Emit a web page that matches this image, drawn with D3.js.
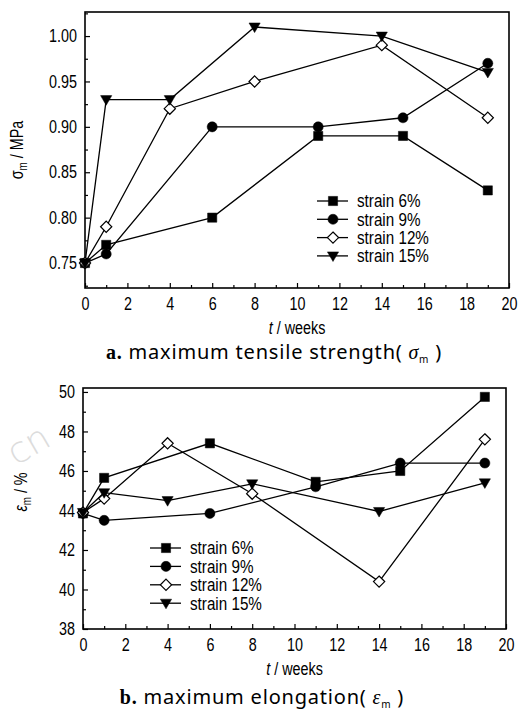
<!DOCTYPE html>
<html>
<head>
<meta charset="utf-8">
<script src="https://cdn.jsdelivr.net/npm/d3@7"></script>
<style>
  body { margin: 0; background: #fff; }
  svg { display: block; }
  .tick text { font-family: "Liberation Sans", Arial, sans-serif; font-size: 17.5px; fill: #000; }
  .lbl { font-family: "Liberation Sans", Arial, sans-serif; font-size: 17.5px; fill: #000; }
  .cap { font-family: "Noto Sans", "DejaVu Sans", sans-serif; font-size: 20px; fill: #000; letter-spacing: 0.8px; }
</style>
</head>
<body>
<svg width="525" height="711"></svg>
<script>
// series shared by both panels
const seriesNames = ['strain 6%', 'strain 9%', 'strain 12%', 'strain 15%'];
const markerTypes = ['square', 'circle', 'diamond', 'triangle'];

// panel a: maximum tensile strength (MPa)
const tensileWeeks = [
  [0, 1, 6, 11, 15, 19],
  [0, 1, 6, 11, 15, 19],
  [0, 1, 4, 8, 14, 19],
  [0, 1, 4, 8, 14, 19]
];
const tensileValues = [
  [0.75, 0.77, 0.80, 0.89, 0.89, 0.83],
  [0.75, 0.76, 0.90, 0.90, 0.91, 0.97],
  [0.75, 0.79, 0.92, 0.95, 0.99, 0.91],
  [0.75, 0.93, 0.93, 1.01, 1.00, 0.96]
];
const tensileTicks = [0.75, 0.80, 0.85, 0.90, 0.95, 1.00];
const tensileMinor = [0.725, 0.775, 0.825, 0.875, 0.925, 0.975, 1.025];

// panel b: maximum elongation (%)
const elongWeeks = [
  [0, 1, 6, 11, 15, 19],
  [0, 1, 6, 11, 15, 19],
  [0, 1, 4, 8, 14, 19],
  [0, 1, 4, 8, 14, 19]
];
const elongValues = [
  [43.85, 45.65, 47.4, 45.45, 46.0, 49.75],
  [43.85, 43.5, 43.85, 45.2, 46.4, 46.4],
  [43.9, 44.6, 47.4, 44.85, 40.4, 47.6],
  [43.9, 44.9, 44.5, 45.35, 43.95, 45.4]
];
const elongTicks = [38, 40, 42, 44, 46, 48, 50];
const elongMinor = [39, 41, 43, 45, 47, 49];

const weekTicks = [0, 2, 4, 6, 8, 10, 12, 14, 16, 18, 20];
const weekMinor = [1, 3, 5, 7, 9, 11, 13, 15, 17, 19];

const svg = d3.select('svg');
const narrow = 0.82;  // the figure uses a condensed face

function markerPath(type) {
  if (type == 'square') return 'M-4.6,-4.6H4.6V4.6H-4.6Z';
  if (type == 'diamond') return 'M0,-5.6L5.6,0L0,5.6L-5.6,0Z';
  if (type == 'triangle') return 'M-5.6,-4L5.6,-4L0,5.6Z';
  return d3.symbol(d3.symbolCircle, 80)();
}

function drawMarker(g, type, x, y) {
  g.append('path')
    .attr('d', markerPath(type))
    .attr('transform', `translate(${x},${y})`)
    .attr('fill', type == 'diamond' ? '#fff' : '#000')
    .attr('stroke', '#000')
    .attr('stroke-width', type == 'diamond' ? 1.2 : 0.5);
}

// squeezed text placed at x,y
function narrowText(g, x, y, sx) {
  return g.append('text').attr('class', 'lbl')
    .attr('transform', `translate(${x},${y}) scale(${sx},1)`);
}

function drawPanel(p) {
  const x = d3.scaleLinear().domain([0, 20]).range([p.left, p.right]);
  const y = d3.scaleLinear().domain(p.yDomain).range([p.bottom, p.top]);
  const g = svg.append('g');

  // x axis, ticks pointing inward
  g.append('g')
    .attr('transform', `translate(0,${p.bottom})`)
    .call(d3.axisBottom(x).tickValues(weekTicks).tickSize(-5).tickPadding(10).tickFormat(d3.format('d')))
    .call(a => a.select('.domain').remove())
    .call(a => a.selectAll('text').attr('transform', `scale(${narrow},1)`));
  g.append('g')
    .attr('transform', `translate(0,${p.bottom})`)
    .call(d3.axisBottom(x).tickValues(weekMinor).tickSize(-3).tickFormat(''))
    .call(a => a.select('.domain').remove());

  // y axis
  g.append('g')
    .attr('transform', `translate(${p.left},0)`)
    .call(d3.axisLeft(y).tickValues(p.yTicks).tickSize(-5).tickPadding(8).tickFormat(p.yFormat))
    .call(a => a.select('.domain').remove())
    .call(a => a.selectAll('text').attr('x', -8 / narrow).attr('transform', `scale(${narrow},1)`));
  g.append('g')
    .attr('transform', `translate(${p.left},0)`)
    .call(d3.axisLeft(y).tickValues(p.yMinor).tickSize(-3).tickFormat(''))
    .call(a => a.select('.domain').remove());

  g.selectAll('.tick line').attr('stroke', '#000').attr('stroke-width', 1.2);

  // frame
  g.append('rect')
    .attr('x', p.left).attr('y', p.top)
    .attr('width', p.right - p.left).attr('height', p.bottom - p.top)
    .attr('fill', 'none').attr('stroke', '#000').attr('stroke-width', 1.6);

  const line = d3.line().x(d => x(d[0])).y(d => y(d[1]));

  p.weeks.forEach((wk, i) => {
    const pts = wk.map((w, j) => [w, p.values[i][j]]);
    g.append('path').datum(pts)
      .attr('d', line)
      .attr('fill', 'none').attr('stroke', '#000').attr('stroke-width', 1.3);
  });
  p.weeks.forEach((wk, i) => {
    wk.forEach((w, j) => drawMarker(g, markerTypes[i], x(w), y(p.values[i][j])));
  });

  // legend
  seriesNames.forEach((name, i) => {
    const ly = p.legY + i * p.legStep;
    g.append('line')
      .attr('x1', p.legX).attr('x2', p.legX + 31)
      .attr('y1', ly).attr('y2', ly)
      .attr('stroke', '#000').attr('stroke-width', 1.3);
    drawMarker(g, markerTypes[i], p.legX + 16, ly);
    narrowText(g, p.legX + 40, ly, 0.87)
      .attr('dy', '0.36em')
      .text(name);
  });

  // x title
  const xt = narrowText(g, (p.left + p.right) / 2, p.bottom + 46, narrow)
    .attr('text-anchor', 'middle');
  xt.append('tspan').style('font-style', 'italic').text('t');
  xt.append('tspan').text(' / weeks');

  // y title
  const yt = g.append('text').attr('class', 'lbl')
    .attr('transform', `translate(${p.yTitleX},${p.yTitleY}) rotate(-90) scale(${narrow},1)`)
    .attr('text-anchor', 'middle');
  yt.append('tspan').style('font-style', p.symItalic ? 'italic' : 'normal').text(p.sym);
  yt.append('tspan').attr('dy', 4).style('font-size', '12px').text('m');
  yt.append('tspan').attr('dy', -4).text(p.unit);

  // caption
  const cap = g.append('text').attr('class', 'cap')
    .attr('x', p.capX).attr('y', p.capY).attr('text-anchor', 'middle');
  cap.append('tspan').style('font-family', '"Liberation Serif", serif').style('font-weight', 'bold').text(p.capLetter);
  cap.append('tspan').text(' ' + p.capText + '(');
  cap.append('tspan').style('font-family', '"Liberation Serif", serif').style('font-style', 'italic').text(' ' + p.sym);
  cap.append('tspan').attr('dy', 4).style('font-size', '10px').text('m');
  cap.append('tspan').attr('dy', -4).text(' )');
}

drawPanel({
  left: 85, right: 509, top: 12, bottom: 288,
  yDomain: [0.7225, 1.0265],
  yTicks: tensileTicks, yMinor: tensileMinor, yFormat: d3.format('.2f'),
  weeks: tensileWeeks, values: tensileValues,
  legX: 317, legY: 201, legStep: 18.3,
  yTitleX: 23, yTitleY: 150, sym: 'σ', symItalic: false, unit: ' / MPa',
  capX: 274, capY: 359, capLetter: 'a.', capText: 'maximum tensile strength'
});

drawPanel({
  left: 83, right: 506, top: 388, bottom: 629,
  yDomain: [38, 50.2],
  yTicks: elongTicks, yMinor: elongMinor, yFormat: d3.format('d'),
  weeks: elongWeeks, values: elongValues,
  legX: 150, legY: 548, legStep: 18.4,
  yTitleX: 27, yTitleY: 492, sym: 'ε', symItalic: true, unit: ' / %',
  capX: 262, capY: 704, capLetter: 'b.', capText: 'maximum elongation'
});

// faint site watermark
svg.append('text')
  .attr('transform', 'translate(16,466) rotate(-30)')
  .style('font-family', '"DejaVu Sans", sans-serif')
  .style('font-weight', 200)
  .style('font-size', '36px')
  .attr('fill', '#dcdcdc')
  .text('cn');
</script>
</body>
</html>
